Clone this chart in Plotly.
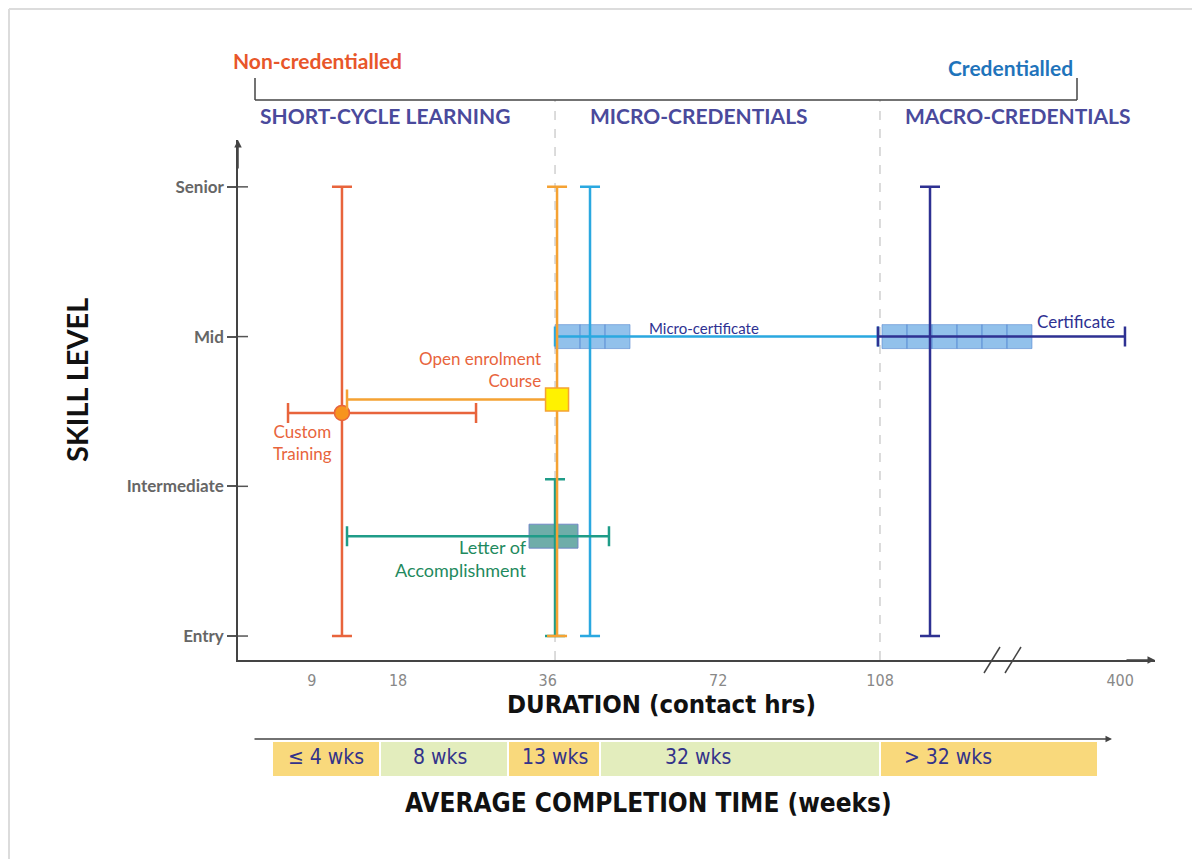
import plotly.graph_objects as go

# ---------------- data ----------------
levels = ["Entry", "Intermediate", "Mid", "Senior"]
level_vals = [0, 1, 2, 3]

x_tick_pos = [8.5, 18.4, 35.6, 55.2, 73.8, 101.4]
x_tick_text = ["9", "18", "36", "72", "108", "400"]

series_names = ["Custom Training", "Open enrolment Course", "Letter of Accomplishment",
                "Micro-certificate", "Certificate"]
series_labels = ["Custom<br>Training", "Open enrolment<br>Course", "Letter of<br>Accomplishment",
                 "Micro-certificate", "Certificate"]
x_center = [11.95, 36.67, 36.44, 40.46, 79.54]
x_low = [5.75, 12.53, 12.53, 36.44, 73.56]
x_high = [27.36, 36.67, 42.64, 73.56, 101.95]
y_center = [1.49, 1.58, 0.667, 2.0, 2.0]
y_low = [0, 0, 0, 0, 0]
y_high = [3, 3, 1.047, 3, 3]

box_x0 = [None, None, 33.45, 36.44, 74.02]
box_x1 = [None, None, 39.08, 45.06, 91.26]
box_cells = [0, 0, 1, 3, 6]

section_boundaries = [36.44, 73.79]

week_labels = ["\u2264 4 wks", "8 wks", "13 wks", "32 wks", "> 32 wks"]

# ---------------- styles ----------------
colors = ["#e8643c", "#f5a233", "#1f9c88", "#2aa8e0", "#2e3192"]
# page body has an 8px margin: figure is drawn 8px right/down of the window origin
W, H = 1192, 851
ML, MR, MT, MB = 230, 45, 132, 199
PW, PH = W - ML - MR, H - MT - MB


def xp(px):  # reference window pixel -> paper
    return (px - 8 - ML) / PW


def yp(py):
    return (H - MB - (py - 8)) / PH


FONT = "Lato, 'Open Sans', sans-serif"
COND = "'DejaVu Sans Condensed', 'Liberation Sans Narrow', sans-serif"

fig = go.Figure()
shapes = []
annotations = []


def note(x, y, text, size, color, family=FONT, xanchor="center", align="center", weight=None,
         **kw):
    f = dict(family=family, size=size, color=color)
    if weight:
        f["weight"] = weight
    d = dict(xref="paper", yref="paper", x=xp(x), y=yp(y), text=text, showarrow=False,
             xanchor=xanchor, yanchor="middle", align=align, font=f)
    d.update(kw)
    annotations.append(d)


# boxes (below traces)
for i in range(len(series_names)):
    if box_cells[i] <= 0:
        continue
    n = box_cells[i]
    step = (box_x1[i] - box_x0[i]) / n
    if i == 2:
        fill, line = "rgba(70,150,145,0.78)", "rgba(110,130,200,0.9)"
    else:
        fill, line = "rgba(95,163,226,0.68)", "rgba(80,130,205,0.55)"
    for k in range(n):
        shapes.append(dict(type="rect", xref="x", yref="y",
                           x0=box_x0[i] + k * step, x1=box_x0[i] + (k + 1) * step,
                           y0=y_center[i] - 0.08, y1=y_center[i] + 0.08,
                           fillcolor=fill, line=dict(color=line, width=1), layer="below"))

# dashed section boundaries
for b in section_boundaries:
    shapes.append(dict(type="line", xref="x", yref="paper", x0=b, x1=b,
                       y0=0, y1=yp(100), line=dict(color="#c4c4c4", width=1.2, dash="dash"),
                       layer="below"))

# traces with error bars
marker_styles = [
    dict(symbol="circle", size=15, color="#f7941d", line=dict(color="#e8643c", width=1.5)),
    dict(symbol="square", size=23, color="#fff200", line=dict(color="#f5a233", width=1.5)),
    dict(symbol="circle", size=1, color="rgba(0,0,0,0)"),
    dict(symbol="circle", size=1, color="rgba(0,0,0,0)"),
    dict(symbol="circle", size=1, color="rgba(0,0,0,0)"),
]
draw_order = [0, 3, 2, 1, 4]
for i in draw_order:
    fig.add_trace(go.Scatter(
        x=[x_center[i]], y=[y_center[i]], mode="markers", name=series_names[i],
        marker=marker_styles[i], showlegend=False, hoverinfo="name",
        error_x=dict(type="data", symmetric=False,
                     array=[x_high[i] - x_center[i]], arrayminus=[x_center[i] - x_low[i]],
                     color=colors[i], thickness=2.5, width=10),
        error_y=dict(type="data", symmetric=False,
                     array=[y_high[i] - y_center[i]], arrayminus=[y_center[i] - y_low[i]],
                     color=colors[i], thickness=2.5, width=10),
    ))

# series labels
note(302, 443, series_labels[0], 17, "#e8643c")
note(543, 369, series_labels[1], 17, "#e8643c", xanchor="right", align="right")
note(529, 558, series_labels[2], 18, "#1f8a5e", xanchor="right", align="right")
note(647, 328, series_labels[3], 15, "#2e3192", xanchor="left", align="left")
note(1035, 321, series_labels[4], 17, "#2e3192", xanchor="left", align="left")

# top bracket
for (x0, y0, x1, y1) in [(255, 100, 1077, 100), (255, 100, 255, 78), (1077, 100, 1077, 78)]:
    shapes.append(dict(type="line", xref="paper", yref="paper", x0=xp(x0), x1=xp(x1),
                       y0=yp(y0), y1=yp(y1), line=dict(color="#444", width=1.5)))
note(317, 60, "<b>Non-credentialled</b>", 21, "#e8562a")
note(1010, 67, "<b>Credentialled</b>", 21, "#1f74bb")
for txt, px in [("SHORT-CYCLE LEARNING", 258), ("MICRO-CREDENTIALS", 588), ("MACRO-CREDENTIALS", 903)]:
    note(px, 116, "<b>" + txt + "</b>", 21, "#4a4a9c", xanchor="left")

# axis arrows
annotations += [
    dict(xref="paper", yref="paper", x=0, y=1, ax=0, ay=30, text="", showarrow=True,
         arrowhead=2, arrowsize=1, arrowwidth=1.5, arrowcolor="#444"),
    dict(xref="paper", yref="paper", x=1, y=0, ax=-30, ay=0, text="", showarrow=True,
         arrowhead=2, arrowsize=1, arrowwidth=1.5, arrowcolor="#444"),
]
# axis break marks
for px in [992, 1013]:
    shapes.append(dict(type="line", xref="paper", yref="paper", x0=xp(px - 8), x1=xp(px + 8),
                       y0=yp(673), y1=yp(647), line=dict(color="#444", width=1.5)))

# y tick crossing parts
for lv in level_vals:
    shapes.append(dict(type="line", xref="paper", yref="y", x0=0, x1=xp(248), y0=lv, y1=lv,
                       line=dict(color="#555", width=1.5)))

# axis titles
note(76, 380, "<b>SKILL LEVEL</b>", 29, "#111", textangle=-90)
note(661, 704, "<b>DURATION (contact hrs)</b>", 25.5, "#111", family=COND)
note(648, 803, "<b>AVERAGE COMPLETION TIME (weeks)</b>", 26, "#111", family=COND)

# completion-time band
band_edges = [272, 380, 508, 600, 880, 1098]
band_text_x = [326, 440, 555, 698, 948]
band_colors = ["#f9d97c", "#e3edbd", "#f9d97c", "#e3edbd", "#f9d97c"]
for k in range(len(week_labels)):
    shapes.append(dict(type="rect", xref="paper", yref="paper",
                       x0=xp(band_edges[k] + 1), x1=xp(band_edges[k + 1] - 1),
                       y0=yp(776), y1=yp(742), fillcolor=band_colors[k], line=dict(width=0)))
    note(band_text_x[k], 757, week_labels[k], 21, "#33338a", family=COND)
annotations.append(dict(xref="paper", yref="paper", x=xp(1112), y=yp(739), ax=-(1112 - 253), ay=0,
                        text="", showarrow=True, arrowhead=2, arrowsize=1, arrowwidth=1.3,
                        arrowcolor="#444"))

# outer frame (top and left edges of the card)
shapes.append(dict(type="line", xref="paper", yref="paper", x0=xp(9), x1=xp(1200), y0=yp(9),
                   y1=yp(9), line=dict(color="#dcdcdc", width=2)))
shapes.append(dict(type="line", xref="paper", yref="paper", x0=xp(9), x1=xp(9), y0=yp(9),
                   y1=yp(859), line=dict(color="#dcdcdc", width=2)))

fig.update_layout(
    width=W, height=H,
    margin=dict(l=ML, r=MR, t=MT, b=MB),
    paper_bgcolor="white", plot_bgcolor="white",
    shapes=shapes, annotations=annotations,
    showlegend=False,
    xaxis=dict(range=[0, 105.4], tickvals=x_tick_pos, ticktext=x_tick_text,
               showgrid=False, zeroline=False, showline=True, linecolor="#444", linewidth=1.5,
               ticks="outside", ticklen=5, tickcolor="rgba(0,0,0,0)",
               tickfont=dict(family=COND, size=16, color="#888")),
    yaxis=dict(range=[-0.16, 3.313], tickvals=level_vals, ticktext=levels,
               showgrid=False, zeroline=False, showline=True, linecolor="#444", linewidth=1.5,
               ticks="outside", ticklen=9, tickwidth=1.5, tickcolor="#555",
               tickfont=dict(family=FONT, size=17, color="#666", weight="bold")),
)

fig.write_html("out.html")
